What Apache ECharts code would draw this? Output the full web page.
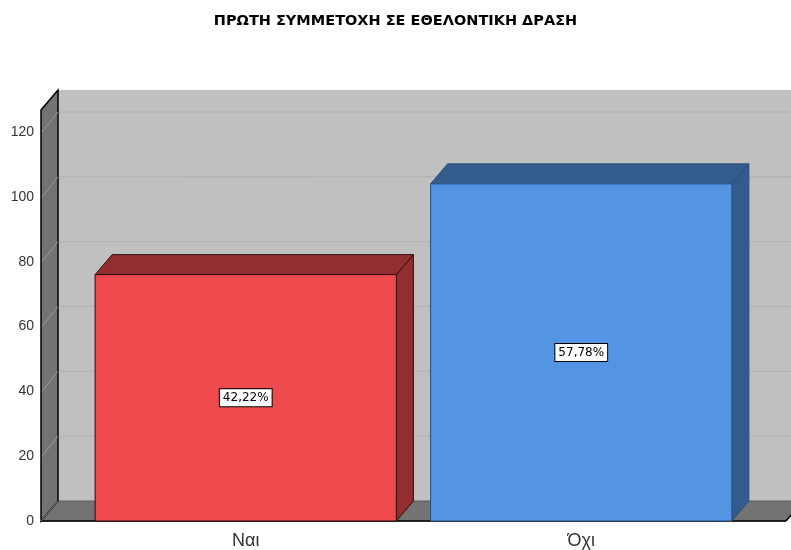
<!DOCTYPE html>
<html>
<head>
<meta charset="utf-8">
<script src="https://cdn.jsdelivr.net/npm/echarts@6/dist/echarts.min.js"></script>
<style>
  html, body { margin: 0; padding: 0; background: #fff; }
  #chart { width: 791px; height: 550px; }
</style>
</head>
<body>
<div id="chart"></div>
<script>
var categories = ['Ναι', 'Όχι'];
var counts = [76, 104];
var percentLabels = ['42,22%', '57,78%'];
var yTicks = [0, 20, 40, 60, 80, 100, 120];

var frontColors = ['#ee4a4d', '#5495e3'];
var darkColors = ['#922d30', '#345b8d'];
var edgeColors = ['#2a0c0c', '#2c4d7a'];

// depth of the 3d look
var DX = 17, DY = 20;

function renderFrame(params, api) {
  var cs = params.coordSys;
  var x0 = cs.x - 37, x1 = cs.x + cs.width + 37;
  var yb = cs.y + cs.height, yt = cs.y - 22;
  var kids = [];
  // back wall
  kids.push({type: 'rect', shape: {x: x0 + DX, y: yt - DY, width: x1 - x0 + 40, height: yb - yt},
    style: {fill: '#c0c0c0'}});
  yTicks.forEach(function (v) {
    if (v === 0) return;
    var y = api.coord([0, v])[1];
    kids.push({type: 'line', shape: {x1: x0 + DX, y1: y - DY, x2: x1 + DX + 40, y2: y - DY},
      style: {stroke: '#b2b2b2', lineWidth: 1}});
  });
  // floor
  kids.push({type: 'polygon', shape: {points: [[x0, yb], [x0 + DX, yb - DY], [x1 + DX, yb - DY], [x1, yb]]},
    style: {fill: '#737373', stroke: '#5a5a5a', lineWidth: 1}});
  kids.push({type: 'line', shape: {x1: x0, y1: yb, x2: x1, y2: yb}, style: {stroke: '#000', lineWidth: 1.5}});
  kids.push({type: 'line', shape: {x1: x1, y1: yb, x2: x1 + DX, y2: yb - DY}, style: {stroke: '#000', lineWidth: 1.5}});
  // left wall
  kids.push({type: 'polygon', shape: {points: [[x0, yt], [x0 + DX, yt - DY], [x0 + DX, yb - DY], [x0, yb]]},
    style: {fill: '#737373', stroke: '#000', lineWidth: 1.5}});
  yTicks.forEach(function (v) {
    if (v === 0) return;
    var y = api.coord([0, v])[1];
    kids.push({type: 'line', shape: {x1: x0 + 1, y1: y, x2: x0 + DX, y2: y - DY},
      style: {stroke: '#9c9c9c', lineWidth: 1}});
  });
  kids.push({type: 'line', shape: {x1: x0, y1: yb, x2: x0 + DX, y2: yb - DY}, style: {stroke: '#8a8a8a', lineWidth: 1}});
  return {type: 'group', children: kids};
}

function renderBar(params, api) {
  var i = params.dataIndex;
  var p0 = api.coord([api.value(0), 0]);
  var p1 = api.coord([api.value(0), api.value(1)]);
  var w = api.size([1, 0])[0] * 0.898;
  var l = p0[0] - w / 2, r = p0[0] + w / 2, t = p1[1], b = p0[1];
  var edge = {stroke: edgeColors[i], lineWidth: 1};
  return {type: 'group', children: [
    {type: 'polygon', shape: {points: [[r, t], [r + DX, t - DY], [r + DX, b - DY], [r, b]]},
      style: Object.assign({fill: darkColors[i]}, edge)},
    {type: 'polygon', shape: {points: [[l, t], [l + DX, t - DY], [r + DX, t - DY], [r, t]]},
      style: Object.assign({fill: darkColors[i]}, edge)},
    {type: 'rect', shape: {x: l, y: t, width: w, height: b - t},
      style: Object.assign({fill: frontColors[i]}, edge)},
    {type: 'text', x: p0[0], y: (t + b) / 2,
      style: {text: percentLabels[i], align: 'center', verticalAlign: 'middle',
        fontFamily: 'DejaVu Sans', fontSize: 12, fill: '#000',
        backgroundColor: '#fff', borderColor: '#000', borderWidth: 1, padding: [3, 3, 2, 3]}}
  ]};
}

var chart = echarts.init(document.getElementById('chart'));
chart.setOption({
  animation: false,
  title: {
    text: 'ΠΡΩΤΗ ΣΥΜΜΕΤΟΧΗ ΣΕ ΕΘΕΛΟΝΤΙΚΗ ΔΡΑΣΗ',
    left: 'center', top: 9,
    textStyle: {fontFamily: 'DejaVu Sans', fontWeight: 'bold', fontSize: 14.5, color: '#000'}
  },
  grid: {left: 78, right: 42, top: 132, bottom: 29},
  xAxis: {
    type: 'category', data: categories,
    axisLine: {show: false}, axisTick: {show: false},
    axisLabel: {margin: 11, fontFamily: 'Liberation Sans', fontSize: 18, color: '#333'}
  },
  yAxis: {
    type: 'value', min: 0, max: 120, interval: 20,
    axisLine: {show: false}, axisTick: {show: false}, splitLine: {show: false},
    axisLabel: {margin: 44, fontFamily: 'Liberation Sans', fontSize: 14, color: '#333'}
  },
  series: [
    {type: 'custom', renderItem: renderFrame, data: [[0, 0]], z: 1, silent: true},
    {type: 'custom', renderItem: renderBar, z: 2,
      data: categories.map(function (c, i) { return [i, counts[i]]; })}
  ]
});
</script>
</body>
</html>
